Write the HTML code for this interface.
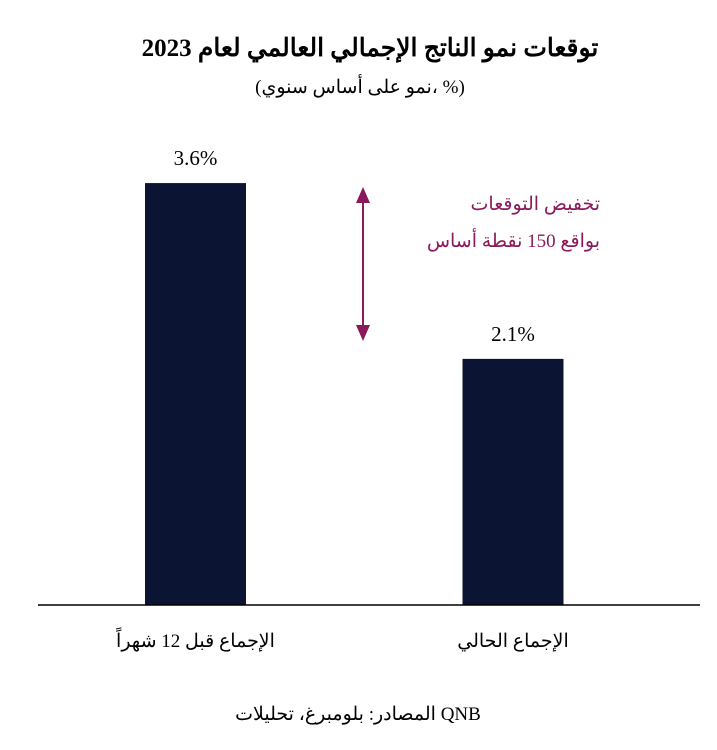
<!DOCTYPE html>
<html><head><meta charset="utf-8">
<style>
body{margin:0;background:#fff;}
svg text{font-family:"Liberation Serif","Noto Serif CJK SC","DejaVu Serif",serif;}
</style></head>
<body>
<svg width="717" height="745" viewBox="0 0 717 745">
<text x="370" y="56" text-anchor="middle" font-size="25" font-weight="bold" fill="#000">توقعات نمو الناتج الإجمالي العالمي لعام 2023</text>
<text x="360" y="93" text-anchor="middle" font-size="19" fill="#000">(نمو على أساس سنوي، %)</text>
<g id="bars"></g>
<line x1="38" y1="605" x2="700" y2="605" stroke="#000" stroke-width="1.5"/>
<g stroke="#8a1a5c" fill="#8a1a5c">
<line x1="363" y1="198" x2="363" y2="330" stroke-width="2"/>
<polygon points="363,187 356,203 370,203" stroke="none"/>
<polygon points="363,341 356,325 370,325" stroke="none"/>
</g>
<text x="600" y="210" text-anchor="end" font-size="19" fill="#8a1a5c">تخفيض التوقعات</text>
<text x="600" y="247" text-anchor="end" font-size="19" fill="#8a1a5c">بواقع 150 نقطة أساس</text>
<text x="358" y="720" text-anchor="middle" font-size="19" fill="#000">المصادر: بلومبرغ، تحليلات QNB</text>
</svg>
<script>
const categories=["الإجماع قبل 12 شهراً","الإجماع الحالي"];
const values=[3.6,2.1];
const valueLabels=["3.6%","2.1%"];
const baseY=605, pxPerUnit=117.2, barW=101;
const centers=[195.5,513];
function yScale(v){return baseY-v*pxPerUnit;}
const g=document.getElementById('bars');
const ns="http://www.w3.org/2000/svg";
values.forEach((v,i)=>{
  const r=document.createElementNS(ns,'rect');
  r.setAttribute('x',centers[i]-barW/2);
  r.setAttribute('y',yScale(v));
  r.setAttribute('width',barW);
  r.setAttribute('height',baseY-yScale(v));
  r.setAttribute('fill','#0b1433');
  
  
  g.appendChild(r);
  const t=document.createElementNS(ns,'text');
  t.setAttribute('x',centers[i]);
  t.setAttribute('y',yScale(v)-18);
  t.setAttribute('text-anchor','middle');
  t.setAttribute('font-size','21');
  t.textContent=valueLabels[i];
  
  
  g.appendChild(t);
  const c=document.createElementNS(ns,'text');
  c.setAttribute('x',centers[i]);
  c.setAttribute('y',647);
  c.setAttribute('text-anchor','middle');
  c.setAttribute('font-size','19');
  c.textContent=categories[i];
  
  
  g.appendChild(c);
});
</script>
</body></html>
